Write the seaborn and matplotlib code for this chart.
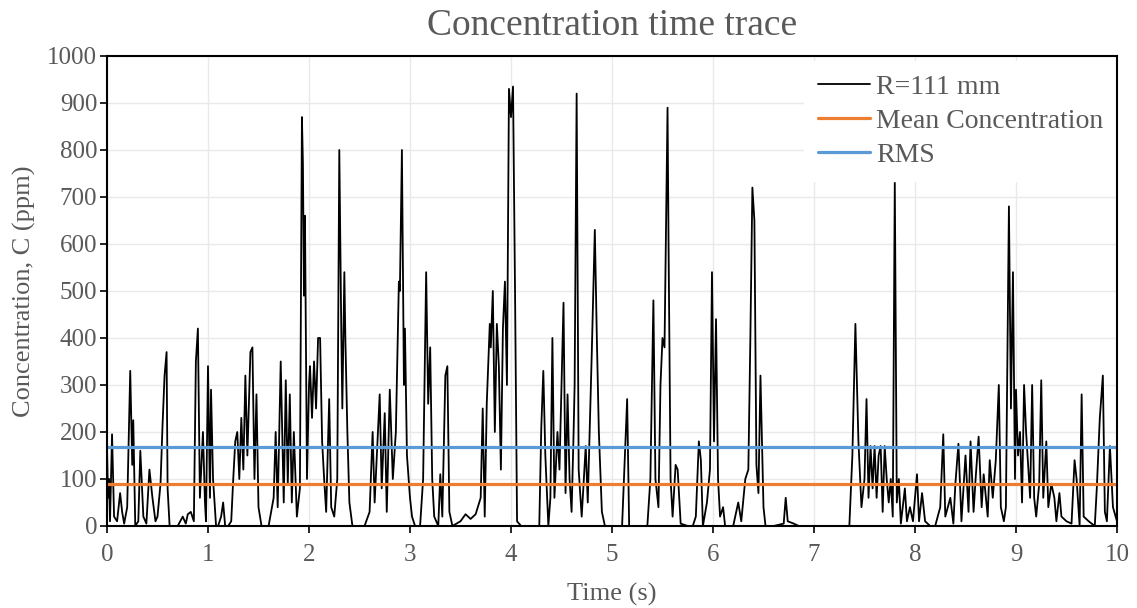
import matplotlib as mpl

mpl.use("Agg")

import matplotlib.pyplot as plt
import seaborn as sns
import pandas as pd

# time trace, seconds / ppm
time_s = [
    0.00, 0.01, 0.02, 0.03, 0.05, 0.07, 0.10, 0.13, 0.15, 0.17, 0.20, 0.23, 0.25, 0.26, 0.28,
    0.31, 0.33, 0.36, 0.39, 0.42, 0.45, 0.48, 0.50, 0.53, 0.55, 0.57, 0.59, 0.60, 0.62, 0.65,
    0.70, 0.75, 0.78, 0.80, 0.83, 0.86, 0.88, 0.90, 0.92, 0.95, 0.97, 0.98, 1.00,
    1.02, 1.03, 1.05, 1.08, 1.10, 1.13, 1.15, 1.17, 1.20, 1.23, 1.25, 1.27, 1.29, 1.31, 1.33,
    1.35, 1.37, 1.39, 1.42, 1.44, 1.46, 1.48, 1.50, 1.53, 1.60, 1.65, 1.67, 1.69, 1.72, 1.75,
    1.77, 1.79, 1.81, 1.83, 1.85, 1.88, 1.91, 1.93, 1.94, 1.95, 1.96, 1.98, 2.00,
    2.01, 2.03, 2.05, 2.07, 2.09, 2.11, 2.13, 2.15, 2.17, 2.20, 2.22, 2.25, 2.28, 2.30, 2.31,
    2.32, 2.33, 2.35, 2.36, 2.38, 2.40, 2.43, 2.50, 2.55, 2.60, 2.63, 2.65, 2.70, 2.72, 2.75,
    2.77, 2.80, 2.83, 2.86, 2.89, 2.90, 2.92, 2.94, 2.95, 2.97, 3.00,
    3.02, 3.05, 3.10, 3.13, 3.16, 3.18, 3.20, 3.22, 3.24, 3.28, 3.30, 3.32, 3.35, 3.37, 3.39,
    3.42, 3.50, 3.55, 3.60, 3.65, 3.70, 3.72, 3.74, 3.76, 3.79, 3.80, 3.82, 3.84, 3.86, 3.88,
    3.90, 3.92, 3.94, 3.96, 3.98, 4.00, 4.02,
    4.04, 4.06, 4.10, 4.20, 4.28, 4.30, 4.32, 4.34, 4.37, 4.39, 4.41, 4.43, 4.46, 4.48, 4.52,
    4.54, 4.56, 4.58, 4.60, 4.62, 4.63, 4.65, 4.67, 4.70, 4.74, 4.76, 4.80, 4.83, 4.85, 4.87,
    4.90, 4.93, 5.00,
    5.05, 5.10, 5.15, 5.17, 5.25, 5.35, 5.38, 5.41, 5.43, 5.46, 5.48, 5.50, 5.52, 5.55, 5.56,
    5.58, 5.60, 5.63, 5.65, 5.68, 5.75, 5.80, 5.83, 5.86, 5.88, 5.90, 5.94, 5.97, 5.99, 6.01,
    6.03, 6.05,
    6.07, 6.10, 6.12, 6.20, 6.25, 6.28, 6.32, 6.35, 6.37, 6.39, 6.41, 6.43, 6.45, 6.47, 6.50,
    6.52, 6.60, 6.70, 6.72, 6.74, 6.80, 6.85, 7.00,
    7.20, 7.35, 7.38, 7.41, 7.44, 7.47, 7.50, 7.52, 7.54, 7.56, 7.58, 7.60, 7.62, 7.64, 7.66,
    7.68, 7.70, 7.72, 7.74, 7.76, 7.78, 7.80, 7.82, 7.84, 7.86, 7.90, 7.92, 7.95, 7.98, 8.00,
    8.02, 8.04, 8.07, 8.10, 8.15, 8.20, 8.25, 8.28, 8.30, 8.35, 8.38, 8.40, 8.43, 8.46, 8.50,
    8.53, 8.55, 8.58, 8.60, 8.63, 8.66, 8.68, 8.72, 8.74, 8.77, 8.80, 8.83, 8.85, 8.88, 8.90,
    8.93, 8.95, 8.97, 8.99, 9.00,
    9.02, 9.04, 9.06, 9.08, 9.10, 9.12, 9.14, 9.16, 9.18, 9.20, 9.23, 9.25, 9.27, 9.30, 9.32,
    9.35, 9.38, 9.40, 9.43, 9.45, 9.50, 9.55, 9.58, 9.60, 9.63, 9.65, 9.67, 9.72, 9.78, 9.80,
    9.83, 9.86, 9.88, 9.90, 9.93, 9.96, 10.00,
]
conc_ppm = [
    170, 60, 100, 10, 195, 20, 10, 70, 30, 5, 40, 330, 130, 225, 0,
    10, 160, 20, 5, 120, 60, 10, 20, 90, 215, 320, 370, 80, 0, 0,
    0, 20, 5, 25, 30, 10, 350, 420, 60, 200, 50, 10, 340,
    60, 290, 100, 0, 0, 20, 50, 0, 0, 10, 100, 180, 200, 100, 230,
    120, 320, 150, 370, 380, 100, 280, 40, 0, 0, 60, 200, 40, 350, 50,
    310, 90, 280, 50, 200, 20, 80, 870, 770, 490, 660, 100, 300,
    340, 230, 350, 250, 400, 400, 180, 100, 30, 270, 40, 20, 100, 800, 600,
    410, 250, 540, 400, 200, 50, 0, 0, 0, 30, 200, 50, 280, 80, 240,
    30, 290, 100, 200, 520, 500, 800, 300, 420, 150, 60,
    20, 0, 0, 100, 540, 260, 380, 100, 20, 0, 110, 20, 320, 340, 30,
    0, 10, 25, 15, 25, 60, 250, 20, 260, 430, 380, 500, 200, 430, 340,
    120, 420, 520, 300, 930, 870, 935,
    500, 10, 0, 0, 0, 210, 330, 150, 0, 60, 400, 60, 200, 120, 475,
    70, 280, 100, 30, 200, 300, 920, 120, 20, 170, 50, 370, 630, 400, 200,
    30, 0, 0,
    0, 0, 270, 0, 0, 0, 100, 480, 100, 40, 300, 400, 380, 890, 600,
    100, 20, 130, 120, 5, 0, 0, 20, 180, 140, 0, 50, 120, 540, 180,
    440, 100,
    20, 40, 0, 0, 50, 10, 100, 120, 400, 720, 650, 130, 70, 320, 40,
    0, 0, 5, 60, 10, 5, 0, 0,
    0, 0, 150, 430, 180, 40, 100, 270, 60, 170, 80, 170, 60, 150, 170,
    30, 170, 100, 50, 100, 20, 735, 50, 100, 5, 80, 10, 40, 10, 60,
    110, 10, 70, 10, 0, 0, 40, 195, 20, 60, 5, 90, 175, 10, 150,
    30, 180, 30, 100, 190, 40, 110, 20, 140, 60, 140, 300, 40, 10, 40,
    680, 250, 540, 100, 290,
    150, 200, 50, 300, 200, 130, 60, 300, 60, 20, 90, 310, 60, 180, 40,
    90, 60, 10, 70, 20, 10, 5, 140, 100, 0, 280, 20, 10, 0, 80,
    230, 320, 30, 10, 170, 40, 10,
]

mean_ppm = 90
rms_ppm = 167
x_span = [0, 10]

trace = pd.DataFrame({"t": time_s, "c": conc_ppm})
mean_df = pd.DataFrame({"t": x_span, "c": [mean_ppm] * 2})
rms_df = pd.DataFrame({"t": x_span, "c": [rms_ppm] * 2})

sns.set_theme(style="whitegrid")
plt.rcParams["font.family"] = ["Liberation Serif", "DejaVu Serif"]
grey = "#595959"

fig, ax = plt.subplots(figsize=(11.37, 6.08), dpi=100)
fig.subplots_adjust(left=0.0941, right=0.9824, top=0.9079, bottom=0.1349)

sns.lineplot(data=trace, x="t", y="c", ax=ax, color="black", linewidth=1.3, label="R=111 mm")
sns.lineplot(data=mean_df, x="t", y="c", ax=ax, color="#ED7D31", linewidth=2.3,
             label="Mean Concentration")
sns.lineplot(data=rms_df, x="t", y="c", ax=ax, color="#5B9BD5", linewidth=2.3, label="RMS")

ax.set_xlim(0, 10)
ax.set_ylim(0, 1000)
ax.set_xticks(range(0, 11))
ax.set_yticks(range(0, 1001, 100))
ax.grid(True, color="#E9E9E9", linewidth=1)
for s in ax.spines.values():
    s.set_color("black")
    s.set_linewidth(1.5)
ax.tick_params(axis="both", which="both", direction="out", length=5, width=1.2,
               color="black", labelsize=18, labelcolor=grey, bottom=True, left=True)
ax.tick_params(axis="x", pad=8)
ax.tick_params(axis="y", pad=2)

ax.set_xlabel("Time (s)", fontsize=19, color=grey, labelpad=12)
ax.set_ylabel("Concentration, C (ppm)", fontsize=19, color=grey, labelpad=8)
ax.set_title("Concentration time trace", fontsize=27, color=grey, pad=15)

leg = ax.legend(loc="upper right", bbox_to_anchor=(1.0, 0.99), frameon=True,
                fontsize=20, handlelength=1.9, handletextpad=0.2, labelspacing=0.3,
                borderpad=0.5, borderaxespad=0)
leg.get_frame().set_facecolor("white")
leg.get_frame().set_edgecolor("white")
leg.get_frame().set_alpha(1)
leg.set_zorder(2.4)  # keep the spines drawn over the white legend box
for txt in leg.get_texts():
    txt.set_color(grey)

fig.savefig("out.png", dpi=100)
